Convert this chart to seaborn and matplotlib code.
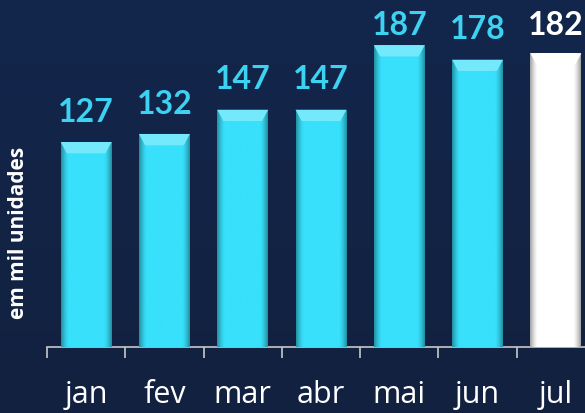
import matplotlib.pyplot as plt
import matplotlib.colors as mcolors
from matplotlib.patches import Polygon
import seaborn as sns
import pandas as pd
import numpy as np

# Dados do grafico
meses = ['jan', 'fev', 'mar', 'abr', 'mai', 'jun', 'jul']
valores = [127, 132, 147, 147, 187, 178, 182]
rotulo_y = 'em mil unidades'

CIANO = '#38e0fb'
BRANCO = '#ffffff'
FUNDO_TOPO = '#12264c'
FUNDO_BASE = '#13213f'

sns.set_theme(style='white')
plt.rcParams['font.family'] = ['Lato', 'DejaVu Sans']

df = pd.DataFrame({'mes': meses, 'valor': valores})
cores = {m: CIANO for m in meses}
cores['jul'] = BRANCO

fig = plt.figure(figsize=(5.85, 4.13), dpi=100)

# Fundo com degrade
fundo = fig.add_axes([0, 0, 1, 1], zorder=-1)
c1 = np.array(mcolors.to_rgb(FUNDO_TOPO))
c2 = np.array(mcolors.to_rgb(FUNDO_BASE))
t = np.linspace(0, 1, 200)[:, None, None]
fundo.imshow(c1 * (1 - t) + c2 * t, aspect='auto', extent=[0, 1, 0, 1])
fundo.axis('off')

ax = fig.add_axes([47 / 585, 66 / 413, 548 / 585, 347 / 413])
ax.patch.set_alpha(0)

sns.barplot(data=df, x='mes', y='valor', hue='mes', palette=cores, width=0.65,
            saturation=1, legend=False, ax=ax, zorder=2, edgecolor='none', linewidth=0)

# Efeito de chanfro nas barras
perfil = np.linspace(-1, 1, 60)
fator = 1 - 0.35 * np.clip((np.abs(perfil) - 0.7) / 0.3, 0, 1) ** 1.5
for barra in ax.patches:
    x0, y0 = barra.get_x(), barra.get_y()
    w, h = barra.get_width(), barra.get_height()
    base = np.array(barra.get_facecolor()[:3])
    img = np.clip(base[None, None, :] * fator[None, :, None], 0, 1)
    im = ax.imshow(img, extent=[x0, x0 + w, y0, y0 + h], aspect='auto', zorder=3)
    im.set_clip_path(barra)
    dx, dy = w * 0.12, 7
    topo = np.clip(base + (1 - base) * 0.3, 0, 1)
    ax.add_patch(Polygon([(x0, y0 + h), (x0 + w, y0 + h), (x0 + w - dx, y0 + h - dy),
                          (x0 + dx, y0 + h - dy)], closed=True, facecolor=topo,
                         edgecolor='none', zorder=4))

# Rotulos de valor
for i, v in enumerate(valores):
    cor = '#3cd2f2' if meses[i] != 'jul' else BRANCO
    ax.text(i, min(v + 12.6, 193.5), str(v), ha='center', va='baseline',
            fontsize=23, fontweight='bold', color=cor)

ax.set_xlim(-0.5, 6.5)
ax.set_ylim(0, 215)
ax.set_xticks(range(len(meses)))
ax.set_xticklabels(meses, fontsize=22, color='white', fontfamily=['Open Sans', 'DejaVu Sans'])
ax.set_xticks(np.arange(-0.5, 7, 1), minor=True)
ax.tick_params(axis='x', which='major', bottom=True, length=0, pad=24)
ax.tick_params(axis='x', which='minor', bottom=True, length=8, width=1.2,
               color='#c8c8c8', direction='out')
ax.set_yticks([])
ax.set_xlabel('')
ax.set_ylabel(rotulo_y, fontsize=15, fontweight='bold', color='white',
              fontfamily=['Open Sans', 'DejaVu Sans'])
ax.yaxis.set_label_coords((29 - 47) / 548, (347 - 233) / 347)
for lado in ['top', 'right', 'left']:
    ax.spines[lado].set_visible(False)
ax.spines['bottom'].set_color('#c8c8c8')
ax.spines['bottom'].set_linewidth(1.2)

fig.savefig('out.png', dpi=100, facecolor=FUNDO_BASE)
